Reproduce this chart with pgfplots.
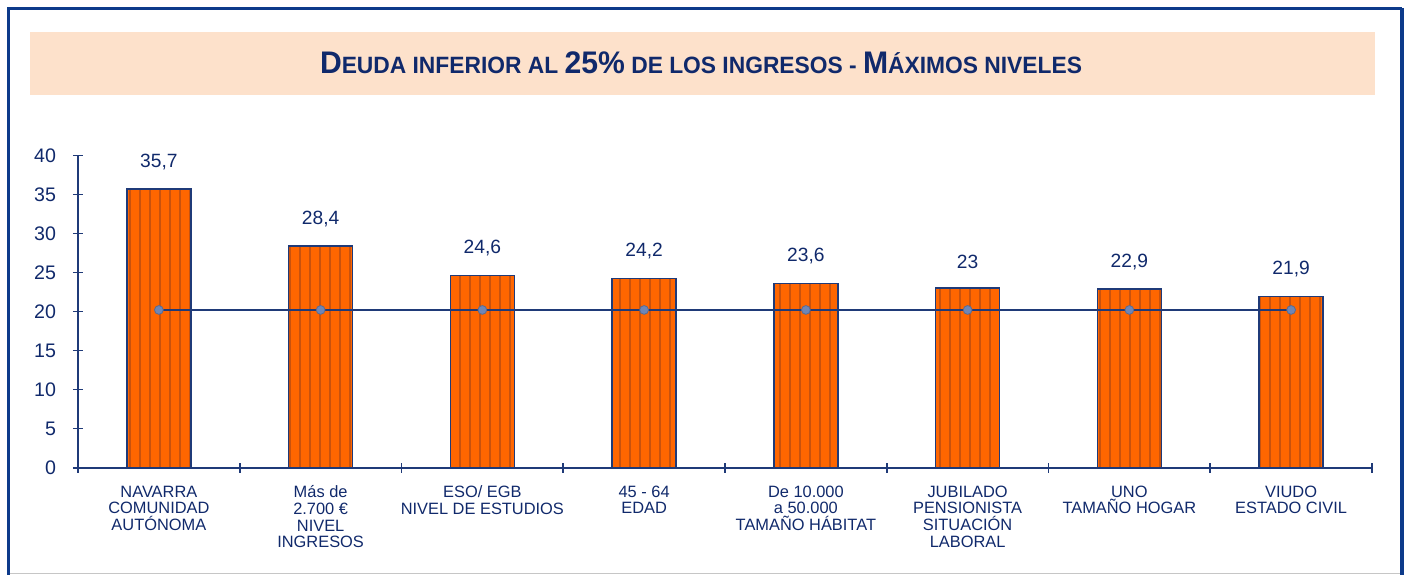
\documentclass[border=0pt]{standalone}
\usepackage{fontspec}
\setmainfont{Liberation Sans}
\usepackage{pgfplots}
\pgfplotsset{compat=1.18}
\usetikzlibrary{patterns.meta}

\definecolor{framebl}{HTML}{0D3A8A}
\definecolor{textbl}{HTML}{10296B}
\definecolor{axisbl}{HTML}{1F3A78}
\definecolor{peach}{HTML}{FDE1CB}
\definecolor{barorange}{HTML}{FF6600}
\definecolor{stripe}{HTML}{C8520E}
\definecolor{dotbl}{HTML}{6F86B6}

\begin{document}
\begin{tikzpicture}
\useasboundingbox (0,0) rectangle (705pt,287pt);
% outer frame
\draw[gray!45, line width=0.5pt] (4pt,0.4pt) -- (701pt,0.4pt);
\draw[framebl, line width=1.6pt] (4.25pt,-5pt) -- (4.25pt,282.9pt) -- (701pt,282.9pt);
\draw[framebl, line width=2pt] (701pt,282.9pt) -- (701pt,-5pt);
% title band
\fill[peach] (15pt,239.5pt) rectangle (687.5pt,271pt);
\node[text=textbl, inner sep=0pt] at (350.5pt,255.8pt) {\resizebox{381pt}{\height}{\bfseries
  {\fontsize{15.6}{17}\selectfont D}{\fontsize{11.8}{13}\selectfont EUDA INFERIOR AL }{\fontsize{15.6}{17}\selectfont 25\%}{\fontsize{11.8}{13}\selectfont{} DE LOS INGRESOS - }{\fontsize{15.6}{17}\selectfont M}{\fontsize{11.8}{13}\selectfont ÁXIMOS NIVELES}}};

\begin{axis}[
  at={(39pt,53.15pt)}, anchor=south west,
  scale only axis, width=647pt, height=156.2pt,
  xmin=-0.5, xmax=7.5, ymin=0, ymax=40,
  axis x line=bottom, axis y line=left,
  axis line style={axisbl, line width=0.8pt, -},
  xtick={-0.5,0.5,...,7.5},
  x tick label as interval,
  xticklabels={
    {NAVARRA\\COMUNIDAD\\AUTÓNOMA},
    {Más de\\2.700 €\\NIVEL\\INGRESOS},
    {ESO/ EGB\\NIVEL DE ESTUDIOS},
    {45 - 64\\EDAD},
    {De 10.000\\a 50.000\\TAMAÑO HÁBITAT},
    {JUBILADO\\PENSIONISTA\\SITUACIÓN\\LABORAL},
    {UNO\\TAMAÑO HOGAR},
    {VIUDO\\ESTADO CIVIL}},
  ytick={0,5,...,40},
  tick align=center, major tick length=5pt,
  tick style={axisbl, line width=0.8pt},
  x tick label style={font=\fontsize{8.2}{8.3}\selectfont, text=textbl, align=center, yshift=-3pt},
  y tick label style={font=\fontsize{9.8}{11}\selectfont, text=textbl, xshift=-5pt},
  /pgf/number format/use comma,
  /pgf/number format/assume math mode=true,
  clip=false,
]
% bars
\addplot[ybar, bar width=32pt, fill=barorange, draw=axisbl, line width=0.7pt,
  postaction={pattern={Lines[angle=90,distance=5pt,line width=1.3pt]}, pattern color=stripe},
  nodes near coords,
  every node near coord/.append style={font=\fontsize{9.6}{11}\selectfont, text=textbl, yshift=6pt}]
  coordinates {(0,35.7) (1,28.4) (2,24.6) (3,24.2) (4,23.6) (5,23) (6,22.9) (7,21.9)};
% average line
\addplot[axisbl, line width=0.8pt, mark=*, mark size=2.2pt,
  mark options={fill=dotbl, draw=dotbl!80!black, line width=0.4pt}]
  coordinates {(0,20.2) (1,20.2) (2,20.2) (3,20.2) (4,20.2) (5,20.2) (6,20.2) (7,20.2)};
\end{axis}
\end{tikzpicture}
\end{document}
